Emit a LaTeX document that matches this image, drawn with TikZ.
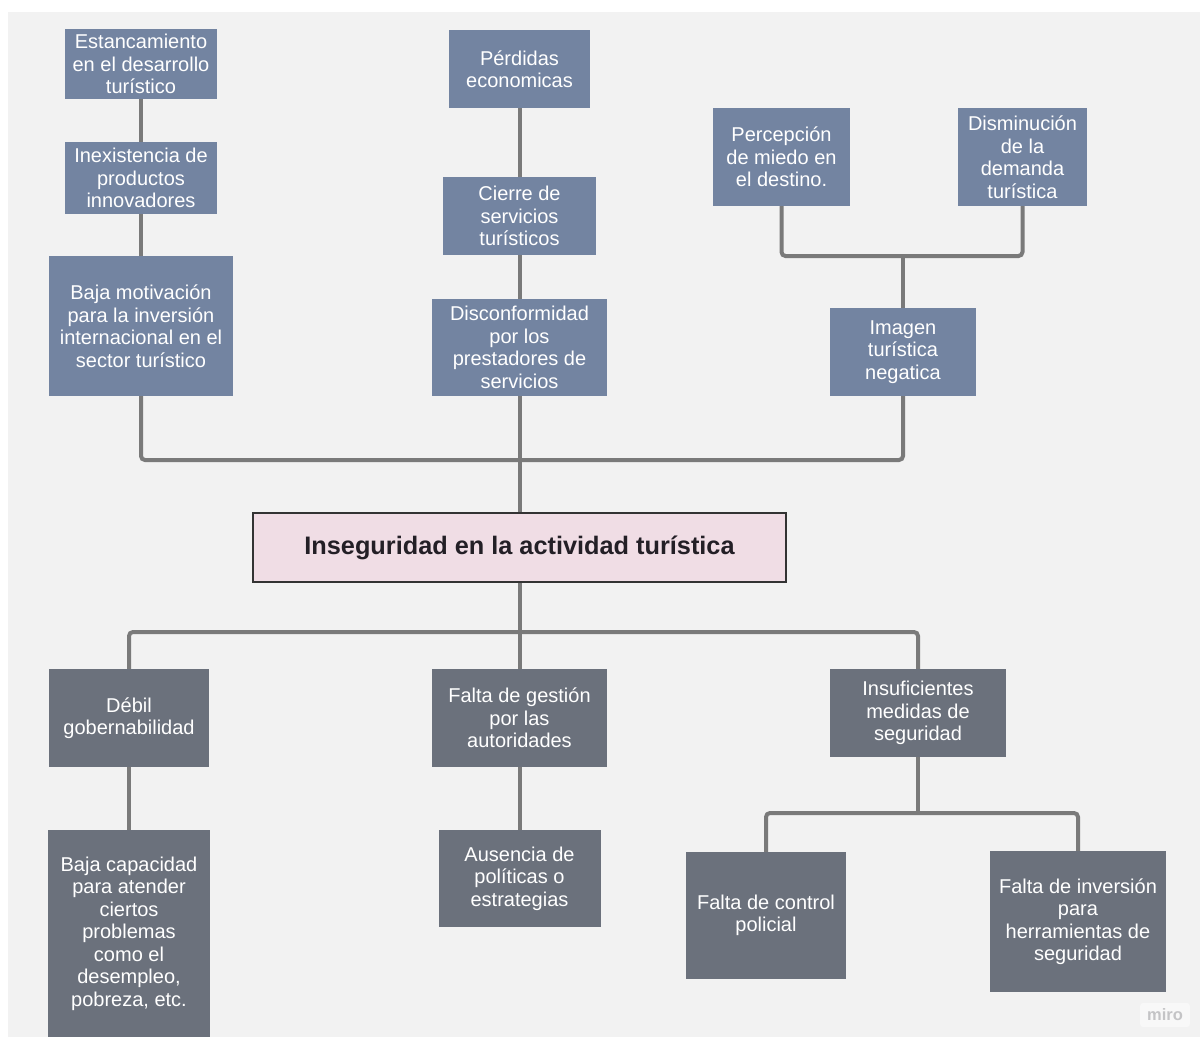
\documentclass[tikz,border=0pt]{standalone}
\usepackage{fontspec}
\setmainfont{Liberation Sans}
\definecolor{bg}{RGB}{242,242,242}
\definecolor{topbox}{RGB}{115,132,161}
\definecolor{botbox}{RGB}{107,113,124}
\definecolor{linec}{RGB}{122,122,122}
\definecolor{pinkbox}{RGB}{240,221,229}
\definecolor{darkt}{RGB}{35,31,38}
\definecolor{mirot}{RGB}{196,196,198}
\begin{document}
\begin{tikzpicture}[x=1pt,y=-1pt,
  box/.style={rectangle, inner sep=0pt, align=center, text=white,
    font=\fontsize{20}{22.5}\selectfont},
  topb/.style={box, fill=topbox},
  botb/.style={box, fill=botbox},
  mainb/.style={rectangle, inner sep=0pt, fill=pinkbox, draw=black!80, line width=1.5pt,
    text=darkt, font=\bfseries\fontsize{25.3}{28}\selectfont},
  conn/.style={draw=linec, line width=4pt, rounded corners=4pt},
]
\useasboundingbox (0,0) rectangle (1200,1039);
\fill[white] (0,0) rectangle (1200,1039);
\fill[bg] (8,12) rectangle (1200,1037);

% upper (effects)
\node[topb, minimum width=152pt, minimum height=70pt] (est) at (141,64) {Estancamiento\\en el desarrollo\\turístico};
\node[topb, minimum width=152pt, minimum height=72pt] (inex) at (141,178) {Inexistencia de\\productos\\innovadores};
\node[topb, minimum width=184pt, minimum height=140pt] (bajam) at (141,326) {Baja motivación\\para la inversión\\internacional en el\\sector turístico};
\node[topb, minimum width=141pt, minimum height=78pt] (perd) at (519.5,69) {Pérdidas\\economicas};
\node[topb, minimum width=153pt, minimum height=78pt] (cierre) at (519.5,216) {Cierre de\\servicios\\turísticos};
\node[topb, minimum width=175pt, minimum height=97pt] (discon) at (519.5,347.5) {Disconformidad\\por los\\prestadores de\\servicios};
\node[topb, minimum width=137pt, minimum height=98pt] (perc) at (781.5,157) {Percepción\\de miedo en\\el destino.};
\node[topb, minimum width=129pt, minimum height=98pt] (dismin) at (1022.5,157) {Disminución\\de la\\demanda\\turística};
\node[topb, minimum width=146pt, minimum height=88pt] (imagen) at (903,352) {Imagen\\turística\\negatica};

% central problem
\node[mainb, minimum width=533pt, minimum height=69pt] (central) at (519.5,547.5) {Inseguridad en la actividad turística};

% lower (causes)
\node[botb, minimum width=160pt, minimum height=98pt] (debil) at (129,718) {Débil\\gobernabilidad};
\node[botb, minimum width=175pt, minimum height=98pt] (faltag) at (519.5,718) {Falta de gestión\\por las\\autoridades};
\node[botb, minimum width=176pt, minimum height=88pt] (insuf) at (918,713) {Insuficientes\\medidas de\\seguridad};
\node[botb, minimum width=162pt, minimum height=207pt] (bajac) at (129,933.5) {Baja capacidad\\para atender\\ciertos\\problemas\\como el\\desempleo,\\pobreza, etc.};
\node[botb, minimum width=162pt, minimum height=97pt] (ausencia) at (519.5,878.5) {Ausencia de\\políticas o\\estrategias};
\node[botb, minimum width=160pt, minimum height=127pt] (faltac) at (766,915.5) {Falta de control\\policial};
\node[botb, minimum width=176pt, minimum height=141pt] (faltai) at (1078,921.5) {Falta de inversión\\para\\herramientas de\\seguridad};

% junction points
\coordinate (jT) at (903,256);
\coordinate (jB) at (519.5,460);
\coordinate (jC) at (519.5,632);
\coordinate (jI) at (918,813);

% connectors
\draw[conn] (est.south) -- (inex.north);
\draw[conn] (inex.south) -- (bajam.north);
\draw[conn] (perd.south) -- (cierre.north);
\draw[conn] (cierre.south) -- (discon.north);
\draw[conn] (perc.south) |- (jT) -| (dismin.south);
\draw[conn] (jT) -- (imagen.north);
\draw[conn] (bajam.south) |- (jB) -| (imagen.south);
\draw[conn] (discon.south) -- (central.north);
\draw[conn] (central.south) -- (jC);
\draw[conn] (debil.north) |- (jC) -| (insuf.north);
\draw[conn] (jC) -- (faltag.north);
\draw[conn] (debil.south) -- (bajac.north);
\draw[conn] (faltag.south) -- (ausencia.north);
\draw[conn] (insuf.south) -- (jI);
\draw[conn] (faltac.north) |- (jI) -| (faltai.north);

% watermark
\node[fill=white!45!bg, rounded corners=3pt, inner xsep=7pt, inner ysep=6pt, text=mirot,
  font=\bfseries\fontsize{16.5}{16.5}\selectfont] (miro) at (1165,1015) {miro};
\end{tikzpicture}
\end{document}
